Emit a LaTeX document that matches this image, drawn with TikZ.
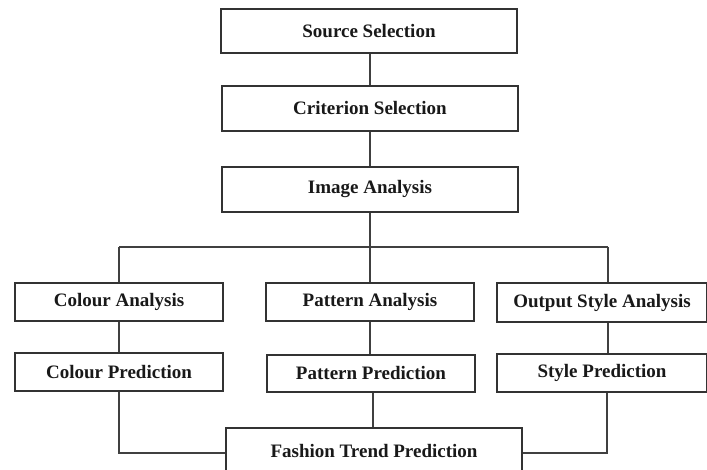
\documentclass[tikz,border=0pt]{standalone}
\usepackage{fontspec}
\setmainfont{Liberation Serif}
\begin{document}
\begin{tikzpicture}[x=1pt,y=1pt,
  stage/.style={draw=black!80, line width=1.4pt, fill=white, inner sep=0pt,
    font=\fontsize{19}{21}\selectfont\bfseries, text=black!90},
  link/.style={draw=black!75, line width=1.3pt}]
\clip (0,0) rectangle (707,470);
% main chain
\node[stage, minimum width=296, minimum height=44] (src) at (369,439) {Source Selection};
\node[stage, minimum width=296, minimum height=45] (crit) at (370,361.5) {Criterion Selection};
\node[stage, minimum width=296, minimum height=45] (img) at (370,280.5) {Image Analysis};
% analysis branches
\node[stage, minimum width=208, minimum height=38] (colA) at (119,168) {Colour Analysis};
\node[stage, minimum width=208, minimum height=38] (patA) at (370,168) {Pattern Analysis};
\node[stage, minimum width=210, minimum height=39] (styA) at (602,167.5) {Output Style Analysis};
% predictions
\node[stage, minimum width=208, minimum height=38] (colP) at (119,98) {Colour Prediction};
\node[stage, minimum width=208, minimum height=37] (patP) at (371,96.5) {Pattern Prediction};
\node[stage, minimum width=210, minimum height=38] (styP) at (602,97) {Style Prediction};
% final result
\node[stage, minimum width=296, minimum height=46] (trend) at (374,19) {Fashion Trend Prediction};
% bus line
\coordinate (busL) at (119,223);
\coordinate (busM) at (370,223);
\coordinate (busR) at (608,223);
\coordinate (joinL) at (119,17);
\coordinate (joinR) at (607,17);
% connectors
\draw[link] (busM |- src.south) -- (crit.north);
\draw[link] (crit) -- (img);
\draw[link] (img) -- (busM);
\draw[link] (busL) -- (busR);
\draw[link] (busL) -- (colA.north);
\draw[link] (busM) -- (patA.north);
\draw[link] (busR) -- (busR |- styA.north);
\draw[link] (colA) -- (colP);
\draw[link] (patA.south) -- (patA.south |- patP.north);
\draw[link] (busR |- styA.south) -- (busR |- styP.north);
\draw[link] (colP.south) -- (joinL) -- (joinL -| trend.west);
\draw[link] (373,0 |- patP.south) -- (373,0 |- trend.north);
\draw[link] (joinR |- styP.south) -- (joinR) -- (joinR -| trend.east);
\end{tikzpicture}
\end{document}
